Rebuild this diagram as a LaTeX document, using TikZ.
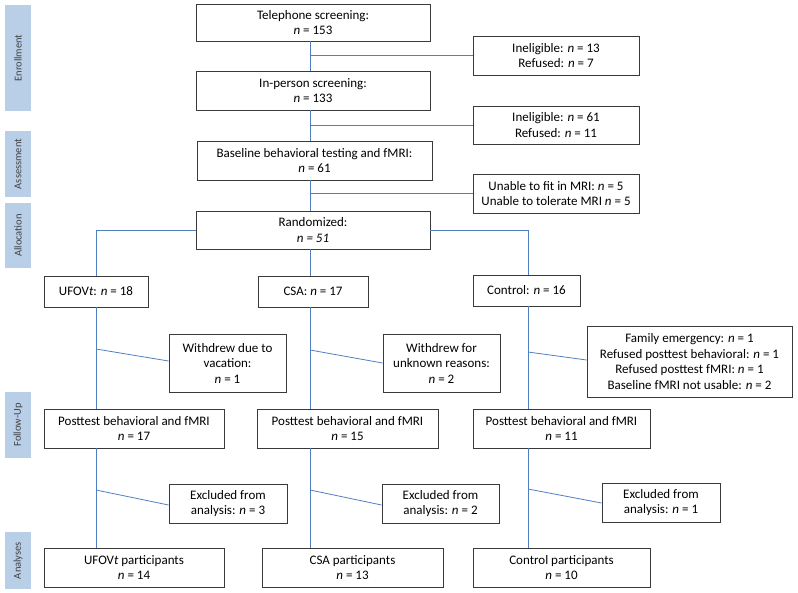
\documentclass[tikz,border=0pt]{standalone}
\usepackage{fontspec}
\setmainfont{Carlito}
\definecolor{linkblue}{HTML}{4F7FC0}
\definecolor{stagefill}{HTML}{B9CFE8}
\definecolor{boxline}{HTML}{3A3A3A}
\newcommand{\nvar}{\textit{n}}
\tikzset{
  box/.style={draw=boxline, line width=0.9pt, fill=white, align=center, inner sep=0pt,
    font=\fontsize{13}{15.5}\selectfont},
  stage/.style={fill=stagefill, rotate=90, inner sep=0pt, minimum width=#1, minimum height=26,
    font=\fontsize{10.5}{12}\selectfont, text=black!75},
  link/.style={draw=linkblue, line width=0.8pt}
}
\begin{document}
\begin{tikzpicture}[x=1pt, y=-1pt]
      \useasboundingbox (0,0) rectangle (798,592);

      % Stage labels on the left
      \node[stage=106] (enr) at (18,58) {Enrollment};
      \node[stage=66] (ass) at (18,164) {Assessment};
      \node[stage=65] (alc) at (18,235.5) {Allocation};
      \node[stage=66] (fol) at (18,425) {Follow-Up};
      \node[stage=57] (anl) at (18,560.5) {Analyses};

      % Trunk positions
      \coordinate (tm) at (310,0);
      \coordinate (tl) at (96,0);
      \coordinate (tr) at (528,0);

      % Screening column
      \node[box, minimum width=234, minimum height=37] (tel) at (313,22.5) {Telephone screening:\\ \nvar{} = 153};
      \node[box, minimum width=234, minimum height=39] (inp) at (313,90.5) {In-person screening:\\ \nvar{} = 133};
      \node[box, minimum width=235, minimum height=39] (base) at (314.5,160.5) {Baseline behavioral testing and fMRI:\\ \nvar{} = 61};
      \node[box, minimum width=234, minimum height=38] (rand) at (313,230) {Randomized:\\ \textit{n = 51}};

      % Exclusions at screening
      \node[box, minimum width=166, minimum height=39] (ine1) at (556,55.5) {Ineligible: \nvar{} = 13\\ Refused: \nvar{} = 7};
      \node[box, minimum width=166, minimum height=38] (ine2) at (556,125) {Ineligible: \nvar{} = 61\\ Refused: \nvar{} = 11};
      \node[box, minimum width=166, minimum height=39] (unab) at (556,193.5) {Unable to fit in MRI: \nvar{} = 5\\ Unable to tolerate MRI \nvar{} = 5};

      % Groups
      \node[box, minimum width=104, minimum height=31] (ufov) at (96,291.5) {UFOV\textit{t}: \nvar{} = 18};
      \node[box, minimum width=110, minimum height=31] (csa) at (313,291.5) {CSA: \nvar{} = 17};
      \node[box, minimum width=107, minimum height=31] (ctrl) at (526.5,290.5) {Control: \nvar{} = 16};

      % Withdrawals
      \node[box, minimum width=117, minimum height=58] (wd1) at (227.5,363) {Withdrew due to\\ vacation:\\ \nvar{} = 1};
      \node[box, minimum width=117, minimum height=58] (wd2) at (441.5,363) {Withdrew for\\ unknown reasons:\\ \nvar{} = 2};
      \node[box, minimum width=205, minimum height=71] (wd3) at (689.5,361.5) {Family emergency: \nvar{} = 1\\ Refused posttest behavioral: \nvar{} = 1\\ Refused posttest fMRI: \nvar{} = 1\\ Baseline fMRI not usable: \nvar{} = 2};

      % Posttest
      \node[box, minimum width=180, minimum height=39] (post1) at (134,428.5) {Posttest behavioral and fMRI\\ \nvar{} = 17};
      \node[box, minimum width=181, minimum height=39] (post2) at (347.5,428.5) {Posttest behavioral and fMRI\\ \nvar{} = 15};
      \node[box, minimum width=177, minimum height=39] (post3) at (561.5,428.5) {Posttest behavioral and fMRI\\ \nvar{} = 11};

      % Excluded
      \node[box, minimum width=118, minimum height=39] (ex1) at (228,503.5) {Excluded from\\ analysis: \nvar{} = 3};
      \node[box, minimum width=117, minimum height=39] (ex2) at (440.5,503.5) {Excluded from\\ analysis: \nvar{} = 2};
      \node[box, minimum width=118, minimum height=39] (ex3) at (661,502.5) {Excluded from\\ analysis: \nvar{} = 1};

      % Analyses
      \node[box, minimum width=180, minimum height=39] (ana1) at (134,567.5) {UFOV\textit{t} participants\\ \nvar{} = 14};
      \node[box, minimum width=181, minimum height=39] (ana2) at (352.5,567.5) {CSA participants\\ \nvar{} = 13};
      \node[box, minimum width=177, minimum height=39] (ana3) at (561.5,567.5) {Control participants\\ \nvar{} = 10};

      % Branch points on the trunks
      \coordinate (w1) at (96,349);
      \coordinate (w2) at (310,350);
      \coordinate (w3) at (528,352);
      \coordinate (e1) at (96,490);
      \coordinate (e2) at (310,490);
      \coordinate (e3) at (528,489);

      % Main trunk
      \draw[link] (tel.south -| tm) -- (inp.north -| tm);
      \draw[link] (inp.south -| tm) -- (base.north -| tm);
      \draw[link] (base.south -| tm) -- (rand.north -| tm);
      \draw[link] (rand.south -| tm) -- (csa.north -| tm);
      \draw[link] (csa.south -| tm) -- (post2.north -| tm);
      \draw[link] (post2.south -| tm) -- (ana2.north -| tm);
      \draw[link] (ine1.west -| tm) -- (ine1.west);
      \draw[link] (ine2.west -| tm) -- (ine2.west);
      \draw[link] (unab.west -| tm) -- (unab.west);

      % Split into groups
      \draw[link] (rand.west) -| (ufov.north);
      \draw[link] (rand.east) -| (ctrl.north -| tr);

      % Side trunks
      \draw[link] (ufov.south) -- (post1.north -| tl);
      \draw[link] (post1.south -| tl) -- (ana1.north -| tl);
      \draw[link] (ctrl.south -| tr) -- (post3.north -| tr);
      \draw[link] (post3.south -| tr) -- (ana3.north -| tr);

      % Drop-outs
      \draw[link] (w1) -- ([yshift=2]wd1.west);
      \draw[link] (w2) -- (wd2.west);
      \draw[link] (w3) -- ([yshift=1.5]wd3.west);
      \draw[link] (e1) -- ([yshift=-1.5]ex1.west);
      \draw[link] (e2) -- ([yshift=-1.5]ex2.west);
      \draw[link] (e3) -- ([yshift=-0.5]ex3.west);
    \end{tikzpicture}
\end{document}
